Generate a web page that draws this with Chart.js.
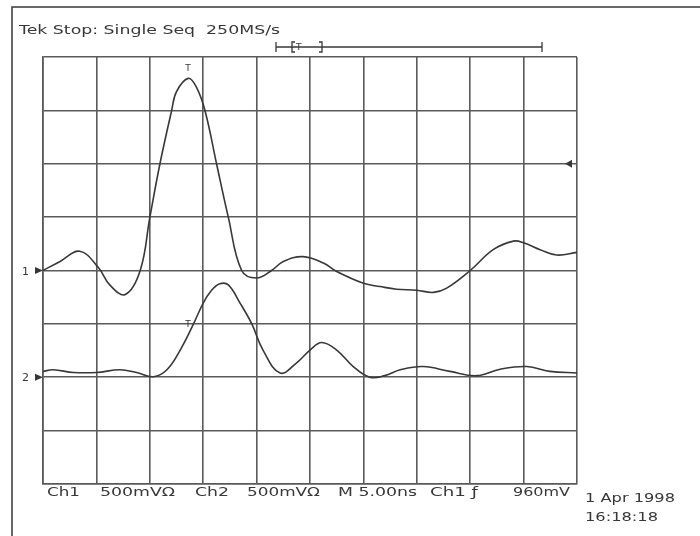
<!DOCTYPE html>
<html lang="en">
<head>
<meta charset="UTF-8">
<title>Tek Stop: Single Seq</title>
<script src="https://cdn.jsdelivr.net/npm/chart.js"></script>
<style>
  body { margin: 0; background: #fff; }
  #wrap { width: 700px; height: 536px; position: relative; }
</style>
</head>
<body>
<div id="wrap"><canvas id="scope"></canvas></div>
<script>
// time in divisions (0..10), amplitude in divisions (-4..4)
const ch1Time = [0, 0.32, 0.69, 1.04, 1.25, 1.54, 1.82, 2.0, 2.19, 2.41, 2.5, 2.72, 2.88, 3.04, 3.25, 3.47, 3.72, 4.0, 4.28, 4.5, 4.87, 5.25, 5.5, 6.0, 6.31, 6.62, 7.0, 7.31, 7.56, 8.0, 8.43, 8.81, 9.0, 9.31, 9.62, 10];
const ch1Volts = [0, 0.17, 0.36, 0.05, -0.27, -0.45, 0, 0.99, 2.0, 3.0, 3.35, 3.6, 3.42, 2.97, 2.0, 1.0, 0, -0.14, 0, 0.17, 0.26, 0.14, -0.02, -0.24, -0.30, -0.35, -0.37, -0.41, -0.33, 0, 0.39, 0.55, 0.52, 0.39, 0.29, 0.34];

const ch2Time = [0, 0.19, 0.57, 1.0, 1.44, 1.75, 2.07, 2.32, 2.57, 2.81, 3.0, 3.15, 3.31, 3.47, 3.69, 3.91, 4.12, 4.44, 4.75, 5.0, 5.22, 5.5, 5.81, 6.12, 6.4, 6.69, 7.12, 7.62, 8.12, 8.56, 9.06, 9.49, 10];
const ch2Volts = [-1.89, -1.86, -1.91, -1.91, -1.86, -1.91, -1.99, -1.86, -1.49, -1.02, -0.61, -0.38, -0.25, -0.27, -0.61, -1.0, -1.49, -1.92, -1.73, -1.49, -1.35, -1.49, -1.80, -2.0, -1.97, -1.86, -1.80, -1.89, -1.97, -1.85, -1.80, -1.89, -1.92];

const headerText = 'Tek Stop: Single Seq  250MS/s';
// readout text: [text, left, right]
const readouts = [
  ['Ch1', 47, 80], ['500mV\u03A9', 100, 175], ['Ch2', 195, 229], ['500mV\u03A9', 247, 320],
  ['M 5.00ns', 338, 417], ['Ch1 \u0192', 430, 478], ['960mV', 513, 570]
];
const dateLines = ['1 Apr 1998', '16:18:18'];

const INK = '#383838';
const GRID = '#5a5a5a';

function toPoints(xs, ys) {
  return xs.map((x, i) => ({ x: x, y: ys[i] }));
}

function trace(label, xs, ys) {
  return {
    label: label,
    data: toPoints(xs, ys),
    showLine: true,
    pointRadius: 0,
    borderColor: INK,
    backgroundColor: INK,
    borderWidth: 1.6,
    tension: 0.4
  };
}

// draws text squeezed/stretched into [x0, x1]
function fitText(ctx, txt, x0, x1, base, size) {
  ctx.save();
  ctx.font = size + 'px "DejaVu Sans"';
  const w = ctx.measureText(txt).width;
  ctx.translate(x0, base);
  ctx.scale((x1 - x0) / w, 1);
  ctx.fillText(txt, 0, 0);
  ctx.restore();
}

const decorations = {
  id: 'decorations',
  afterDraw(chart) {
    const ctx = chart.ctx;
    const xs = chart.scales.x, ys = chart.scales.y;
    ctx.save();
    ctx.strokeStyle = INK;
    ctx.fillStyle = INK;
    ctx.lineWidth = 1.5;

    // outer frame (top + left)
    ctx.beginPath();
    ctx.moveTo(12, 536); ctx.lineTo(12, 7); ctx.lineTo(700, 7);
    ctx.stroke();

    fitText(ctx, headerText, 19, 280, 34, 13);

    // trigger position bar
    const by = 47;
    ctx.lineWidth = 1.3;
    ctx.beginPath();
    ctx.moveTo(276, by); ctx.lineTo(542, by);
    ctx.moveTo(276, by - 5); ctx.lineTo(276, by + 5);
    ctx.moveTo(542, by - 5); ctx.lineTo(542, by + 5);
    ctx.moveTo(295, by - 5); ctx.lineTo(292, by - 5); ctx.lineTo(292, by + 5); ctx.lineTo(295, by + 5);
    ctx.moveTo(319, by - 5); ctx.lineTo(322, by - 5); ctx.lineTo(322, by + 5); ctx.lineTo(319, by + 5);
    ctx.stroke();
    ctx.font = '9px "DejaVu Sans"';
    ctx.fillText('T', 296, by + 3);

    // channel ground markers
    ctx.font = '11px "DejaVu Sans"';
    [[0, '1'], [-2, '2']].forEach(([lvl, name]) => {
      const py = ys.getPixelForValue(lvl);
      ctx.fillText(name, 22, py + 4);
      ctx.beginPath();
      ctx.moveTo(43, py); ctx.lineTo(35, py - 3.5); ctx.lineTo(35, py + 3.5);
      ctx.closePath(); ctx.fill();
    });

    // trigger level arrow
    const ty = ys.getPixelForValue(2);
    ctx.beginPath();
    ctx.moveTo(565, ty); ctx.lineTo(572, ty - 4); ctx.lineTo(572, ty + 4);
    ctx.closePath(); ctx.fill();

    // trigger point marks on the traces
    ctx.font = '9px "DejaVu Sans"';
    ctx.fillText('T', xs.getPixelForValue(2.72) - 3, ys.getPixelForValue(3.6) - 7);
    ctx.fillText('T', xs.getPixelForValue(2.72) - 3, ys.getPixelForValue(-1.0) + 3);

    // readouts
    readouts.forEach(r => fitText(ctx, r[0], r[1], r[2], 496, 12));
    fitText(ctx, dateLines[0], 585, 675, 502, 13);
    fitText(ctx, dateLines[1], 585, 658, 521, 13);
    ctx.restore();
  }
};

new Chart(document.getElementById('scope'), {
  type: 'scatter',
  data: {
    datasets: [
      trace('CH1', ch1Time, ch1Volts),
      trace('CH2', ch2Time, ch2Volts)
    ]
  },
  options: {
    responsive: true,
    maintainAspectRatio: false,
    animation: false,
    layout: { padding: { left: 43, right: 123, top: 57, bottom: 52 } },
    plugins: { legend: { display: false }, tooltip: { enabled: false } },
    scales: {
      x: {
        min: 0, max: 10,
        ticks: { display: false, stepSize: 1 },
        grid: { color: GRID, lineWidth: 1.6, drawTicks: false },
        border: { display: true, color: GRID, width: 1.6 }
      },
      y: {
        min: -4, max: 4,
        ticks: { display: false, stepSize: 1 },
        grid: { color: GRID, lineWidth: 1.6, drawTicks: false },
        border: { display: true, color: GRID, width: 1.6 }
      }
    }
  },
  plugins: [decorations]
});
</script>
</body>
</html>
